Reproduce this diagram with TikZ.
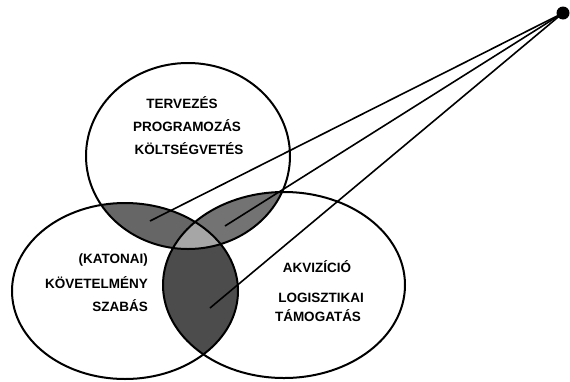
\documentclass[tikz,border=0pt]{standalone}
\usepackage{fontspec}
\setmainfont{Liberation Sans}
\begin{document}
\begin{tikzpicture}[x=1pt,y=-1pt,
  outline/.style={line width=2pt,black},
  ray/.style={line width=1.6pt,black},
  lbl/.style={font=\bfseries\fontsize{13.5}{22}\selectfont,inner sep=0pt}]
\useasboundingbox (0,0) rectangle (570,381);
\def\topE{(188,156) ellipse [x radius=102pt, y radius=93pt]}
\def\leftE{(125,291) ellipse [x radius=113pt, y radius=88pt]}
\def\rightE{(284,285) ellipse [x radius=121pt, y radius=93pt]}
% shaded overlaps
\begin{scope}\clip \topE; \fill[black!60] \leftE; \end{scope}
\begin{scope}\clip \topE; \fill[black!55] \rightE; \end{scope}
\begin{scope}\clip \leftE; \fill[black!70] \rightE; \end{scope}
\begin{scope}\clip \topE; \clip \leftE; \fill[black!35] \rightE; \end{scope}
% outlines
\draw[outline] \topE;
\draw[outline] \leftE;
\draw[outline] \rightE;
% texts
\node[lbl] (t1) at (182,103) {TERVEZÉS};
\node[lbl] (t2) at (187,126) {PROGRAMOZÁS};
\node[lbl] (t3) at (189,149) {KÖLTSÉGVETÉS};
\node[lbl,anchor=east] (l1) at (148,260) {(KATONAI)};
\node[lbl,anchor=east] (l2) at (148,283) {KÖVETELMÉNY};
\node[lbl,anchor=east] (l3) at (148,306) {SZABÁS};
\node[lbl] (r1) at (317,267) {AKVIZÍCIÓ};
\node[lbl] (r2) at (321,298) {LOGISZTIKAI};
\node[lbl] (r3) at (318,316) {TÁMOGATÁS};
% dot and rays
\node[circle,fill=black,inner sep=0pt,minimum size=13pt] (dot) at (563,13) {};
\coordinate (e1) at (150,221);
\coordinate (e2) at (225,226);
\coordinate (e3) at (210,308);
\draw[ray] (dot.center) -- (e1);
\draw[ray] (dot.center) -- (e2);
\draw[ray] (dot.center) -- (e3);
\end{tikzpicture}
\end{document}
